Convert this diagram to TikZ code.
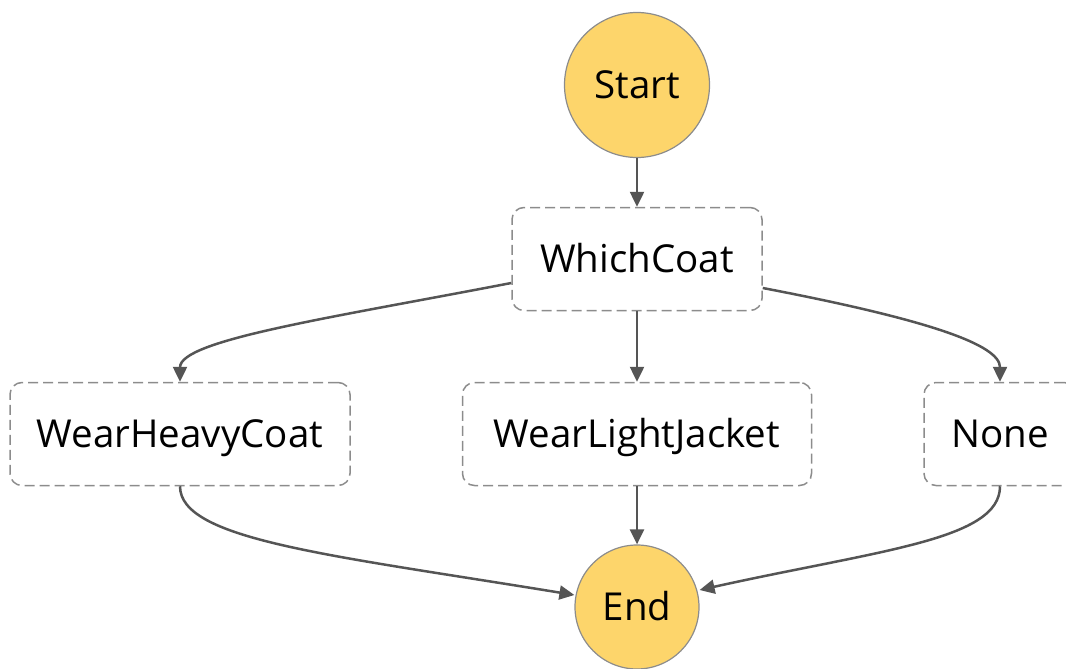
\documentclass[tikz,border=0pt]{standalone}
\usepackage{fontspec}
\setmainfont{Open Sans}
\usepackage{xcolor}
\usepackage{tikz}
\usetikzlibrary{arrows.meta, shapes.geometric}

\definecolor{stateyellow}{HTML}{FDD56B}
\definecolor{edgegray}{HTML}{555555}
\definecolor{boxgray}{HTML}{8C8C8C}

\begin{document}
\begin{tikzpicture}[
    x=1pt, y=-1pt,
    every node/.style={font=\fontsize{38.5}{44}\selectfont, text height=27pt, text depth=0pt},
    terminal/.style={circle, draw=boxgray, line width=1.2pt, fill=stateyellow, inner sep=0pt},
    task/.style={rectangle, rounded corners=12pt, draw=boxgray, line width=1.5pt, dash pattern=on 10pt off 5pt, minimum height=103pt, align=center, inner sep=0pt},
    arrow/.style={-{Triangle[length=15pt, width=14pt]}, line width=2.5pt, draw=edgegray}
]
\useasboundingbox (0,0) rectangle (1066,669);

\node[terminal, minimum size=145pt] (start) at (637,85) {Start};
\node[task, minimum width=250pt] (which) at (637,259) {WhichCoat};
\node[task, minimum width=340pt] (heavy) at (180,434) {WearHeavyCoat};
\node[task, minimum width=349pt] (light) at (637,434) {WearLightJacket};
\node[task, minimum width=152pt] (none) at (1000,434) {None};
\node[terminal, minimum size=124pt] (end) at (637,607) {End};

\draw[arrow] (start) -- (which);
\draw[arrow] ([yshift=-24pt]which.west) .. controls (330,318) and (180,340) .. (heavy.north);
\draw[arrow] (which) -- (light);
\draw[arrow] ([yshift=-29pt]which.east) .. controls (930,320) and (1000,345) .. (none.north);
\draw[arrow] (heavy.south) .. controls (180,540) and (330,555) .. ([yshift=12pt]end.west);
\draw[arrow] (light) -- (end);
\draw[arrow] (none.south) .. controls (1000,540) and (880,550) .. ([yshift=17pt]end.east);
\end{tikzpicture}
\end{document}
